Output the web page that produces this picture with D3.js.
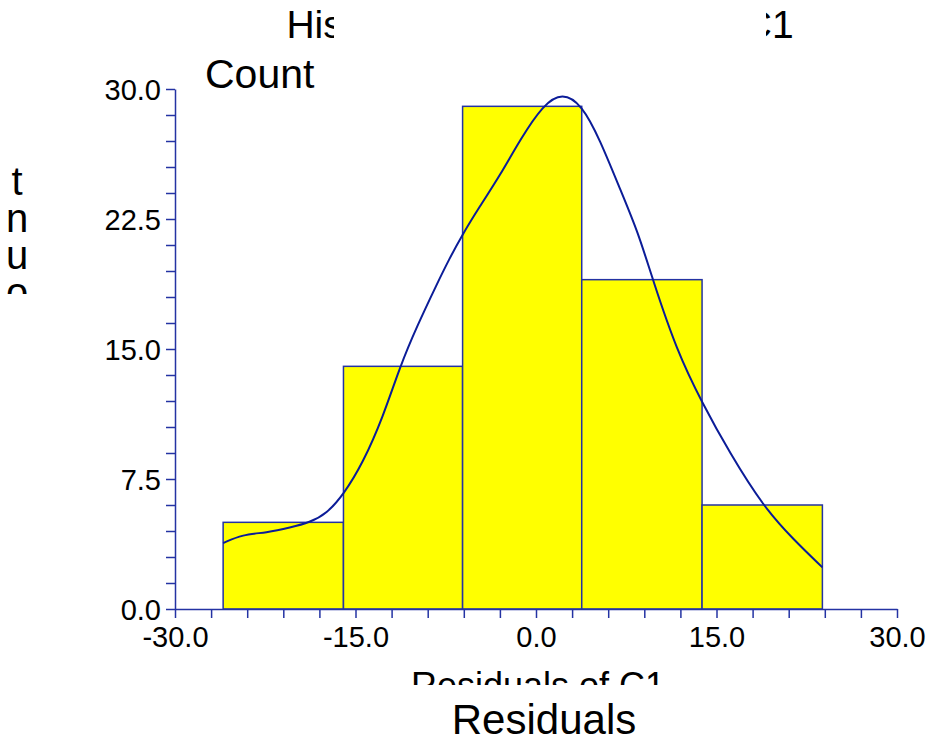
<!DOCTYPE html>
<html>
<head>
<meta charset="utf-8">
<script src="https://cdn.jsdelivr.net/npm/d3@7"></script>
<style>
  body { margin: 0; background: #fff; }
  svg { display: block; font-family: "Liberation Sans", Arial, sans-serif; }
</style>
</head>
<body>
<svg id="chart"></svg>
<script>
// histogram of residuals
const binEdges = [-26.0, -16.0, -6.1, 3.8, 13.8, 23.8];
const counts = [5, 14, 29, 19, 6];

// density curve
const curveX = [-26.0, -24.4, -22.4, -20.4, -18.8, -17.4, -16.0, -14.4, -12.7, -11.3, -9.9, -8.2, -7.2, -6.2, -4.7, -3.0, -1.3, 0.6, 2.2, 3.8, 5.3, 7.0, 8.5, 9.7, 11.7, 13.8, 16.1, 18.9, 21.4, 23.8];
const curveY = [3.8, 4.3, 4.4, 4.7, 5.0, 5.5, 6.6, 8.4, 11.1, 14.0, 16.3, 18.8, 20.2, 21.5, 23.2, 25.0, 27.1, 29.1, 29.8, 29.1, 27.1, 24.2, 21.7, 19.0, 14.9, 11.9, 9.0, 5.9, 4.0, 2.4];

const xMajor = [-30, -15, 0, 15, 30];
const xLabels = ["-30.0", "-15.0", "0.0", "15.0", "30.0"];
const yMajor = [0, 7.5, 15, 22.5, 30];
const yLabels = ["0.0", "7.5", "15.0", "22.5", "30.0"];

const width = 928, height = 741;
const axisColor = "#2433a3";
const lineColor = "#0b1c98";

const svg = d3.select("#chart")
  .attr("width", width)
  .attr("height", height);

const x = d3.scaleLinear().domain([-30, 30]).range([175, 897]);
const y = d3.scaleLinear().domain([0, 30]).range([609, 89]);

// title, partly hidden like the original
svg.append("text")
  .attr("x", 540)
  .attr("y", 38)
  .attr("text-anchor", "middle")
  .style("font-size", "39px")
  .text("Histogram of Residuals of C1");
svg.append("rect")
  .attr("x", 334).attr("y", 0)
  .attr("width", 432).attr("height", 50)
  .attr("fill", "#fff");

svg.append("text")
  .attr("x", 205)
  .attr("y", 88)
  .style("font-size", "41px")
  .text("Count");

// bars
const bars = counts.map((c, i) => ({ x0: binEdges[i], x1: binEdges[i + 1], count: c }));
svg.append("g")
  .selectAll("rect")
  .data(bars)
  .join("rect")
  .attr("x", d => x(d.x0))
  .attr("y", d => y(d.count))
  .attr("width", d => x(d.x1) - x(d.x0))
  .attr("height", d => y(0) - y(d.count))
  .attr("fill", "#ffff00")
  .attr("stroke", axisColor)
  .attr("stroke-width", 1.5);

// axes
const xAxis = d3.axisBottom(x)
  .tickValues(d3.range(-30, 31, 3))
  .tickSize(9)
  .tickSizeOuter(0)
  .tickPadding(8)
  .tickFormat(d => {
    const k = xMajor.indexOf(d);
    return k >= 0 ? xLabels[k] : "";
  });
const gx = svg.append("g")
  .attr("transform", `translate(0,${y(0)})`)
  .call(xAxis);

const yAxis = d3.axisLeft(y)
  .tickValues(d3.range(0, 30.01, 1.5))
  .tickSize(9)
  .tickSizeOuter(0)
  .tickPadding(5)
  .tickFormat(d => {
    const k = yMajor.indexOf(d);
    return k >= 0 ? yLabels[k] : "";
  });
const gy = svg.append("g")
  .attr("transform", `translate(${x(-30)},0)`)
  .call(yAxis);

[gx, gy].forEach(g => {
  g.selectAll("path, line").attr("stroke", axisColor).attr("stroke-width", 1.5);
  g.selectAll("text")
    .attr("fill", "#000")
    .style("font-size", "29px")
    .style("font-family", "'Liberation Sans', Arial, sans-serif");
});
gy.selectAll("text").attr("dy", "0.36em");

// density curve
const line = d3.line()
  .x(d => x(d[0]))
  .y(d => y(d[1]))
  .curve(d3.curveBasis);
svg.append("path")
  .datum(curveX.map((v, i) => [v, curveY[i]]))
  .attr("d", line)
  .attr("fill", "none")
  .attr("stroke", lineColor)
  .attr("stroke-width", 2);

// vertical axis title, stacked letters, lower part hidden
const yTitle = "Count".split("").reverse();
svg.append("g")
  .selectAll("text")
  .data(yTitle)
  .join("text")
  .attr("x", 17)
  .attr("y", (d, i) => 195 + i * 37)
  .attr("text-anchor", "middle")
  .style("font-size", "40px")
  .text(d => d);
svg.append("rect")
  .attr("x", 0).attr("y", 294)
  .attr("width", 50).attr("height", 200)
  .attr("fill", "#fff");

// x axis title, lower part hidden by the second label
svg.append("text")
  .attr("x", 538)
  .attr("y", 698)
  .attr("text-anchor", "middle")
  .style("font-size", "36px")
  .text("Residuals of C1");
svg.append("rect")
  .attr("x", 380).attr("y", 685)
  .attr("width", 320).attr("height", 56)
  .attr("fill", "#fff");
svg.append("text")
  .attr("x", 544)
  .attr("y", 734)
  .attr("text-anchor", "middle")
  .style("font-size", "42px")
  .text("Residuals");
</script>
</body>
</html>
